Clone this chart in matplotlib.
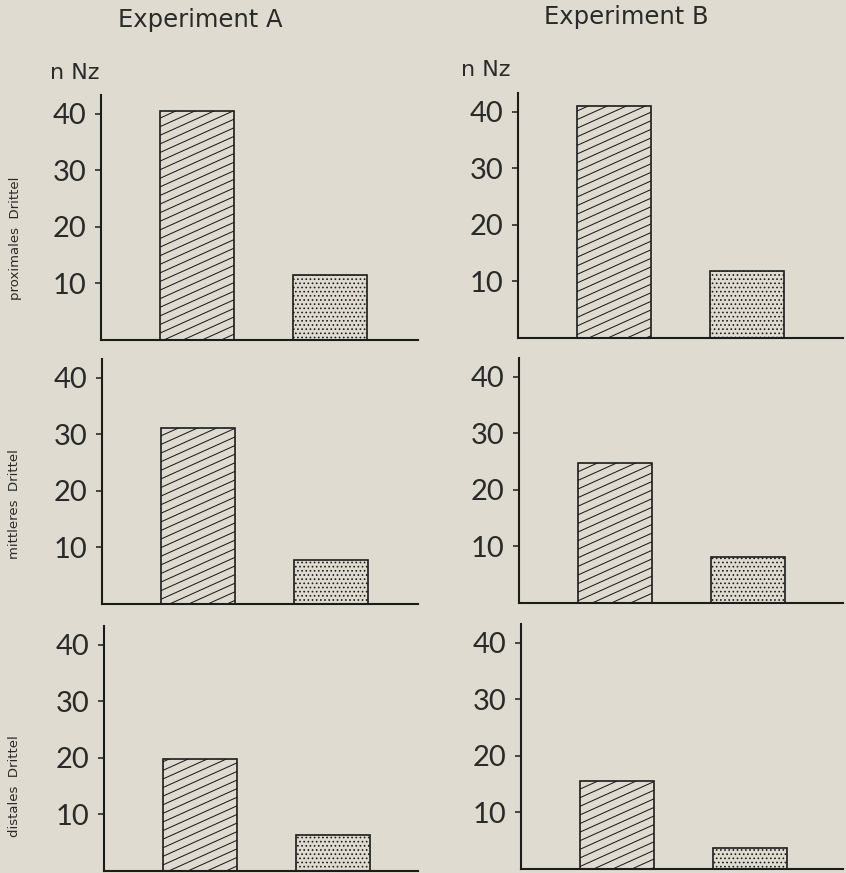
import matplotlib
matplotlib.use("Agg")
import matplotlib.pyplot as plt
from matplotlib.collections import LineCollection
from matplotlib.transforms import Affine2D

# Counts of Nz per third of the organ (n Nz); first bar hatched, second stippled
experiments = ["Experiment A", "Experiment B"]
thirds = ["proximales  Drittel", "mittleres  Drittel", "distales  Drittel"]
exp_a_hatched = [40.4, 31.1, 19.8]
exp_a_dotted = [11.4, 7.8, 6.4]
exp_b_hatched = [41.0, 24.7, 15.6]
exp_b_dotted = [11.9, 8.1, 3.7]
y_ticks = [10, 20, 30, 40]
y_label = "n Nz"

W, H = 846, 873
BG = "#dfdbd0"
INK = "#1c1c1c"
TXT = "#2a2a2a"

plt.rcParams["hatch.linewidth"] = 0.7
plt.rcParams["font.family"] = ["DejaVu Sans"]

fig = plt.figure(figsize=(W / 100, H / 100), dpi=100, facecolor=BG)


def px_axes(left, right, base, height=245):
    return fig.add_axes([left / W, 1 - base / H, (right - left) / W, height / H])


# panel frames in pixels: (left, right, baseline)
frames = [
    [(101, 418, 340), (518, 843, 338)],
    [(102, 418, 604), (519, 843, 603)],
    [(104, 418, 871), (521, 843, 869)],
]
data = [
    (exp_a_hatched, exp_a_dotted),
    (exp_b_hatched, exp_b_dotted),
]

pix = Affine2D().scale(1 / W, 1 / H) + fig.transFigure


def slant_hatch(ax, patch, slope=0.45, step=8.6):
    segs = []
    b = -slope * W - 20
    while b < H + 20:
        segs.append([(0, b), (W, b + slope * W)])
        b += step
    lc = LineCollection(segs, colors=INK, linewidths=0.75, transform=pix, zorder=2.5)
    lc.set_clip_path(patch)
    fig.add_artist(lc)


for r in range(3):
    for c in range(2):
        left, right, base = frames[r][c]
        ax = px_axes(left, right, base)
        ax.set_facecolor("none")
        hatched, dotted = data[c]
        vals = [hatched[r], dotted[r]]
        bars = ax.bar([0, 1], vals, width=0.56, color="none", edgecolor=INK,
                      linewidth=1.2, zorder=3)
        bars[1].set_hatch("....")
        slant_hatch(ax, bars[0])
        ax.set_xlim(-0.72, -0.72 + (right - left) / 133.0)
        ax.set_ylim(0, 43.3)
        ax.set_yticks(y_ticks)
        ax.set_yticklabels([str(t) for t in y_ticks])
        ax.set_xticks([])
        for s in ("top", "right"):
            ax.spines[s].set_visible(False)
        for s in ("left", "bottom"):
            ax.spines[s].set_linewidth(1.5)
            ax.spines[s].set_color(INK)
        ax.tick_params(axis="y", direction="out", length=4.5, width=1.1,
                       color=INK, pad=6, labelcolor=TXT)
        for lab in ax.get_yticklabels():
            lab.set_family(["Lato", "DejaVu Sans"])
            lab.set_fontsize(21)

# column headings
fig.text(200 / W, 1 - 20 / H, experiments[0], ha="center", va="center",
         fontsize=17.5, color=TXT)
fig.text(626 / W, 1 - 17 / H, experiments[1], ha="center", va="center",
         fontsize=17.5, color=TXT)

# unit labels
fig.text(75 / W, 1 - 73 / H, y_label, ha="center", va="center", fontsize=16, color=TXT)
fig.text(486 / W, 1 - 70 / H, y_label, ha="center", va="center", fontsize=16, color=TXT)

# row labels
for y, lab in zip([238, 504, 786], thirds):
    fig.text(15 / W, 1 - y / H, lab, ha="center", va="center", rotation=90,
             fontsize=9.5, color=TXT)

fig.savefig("out.png", dpi=100, facecolor=BG)
